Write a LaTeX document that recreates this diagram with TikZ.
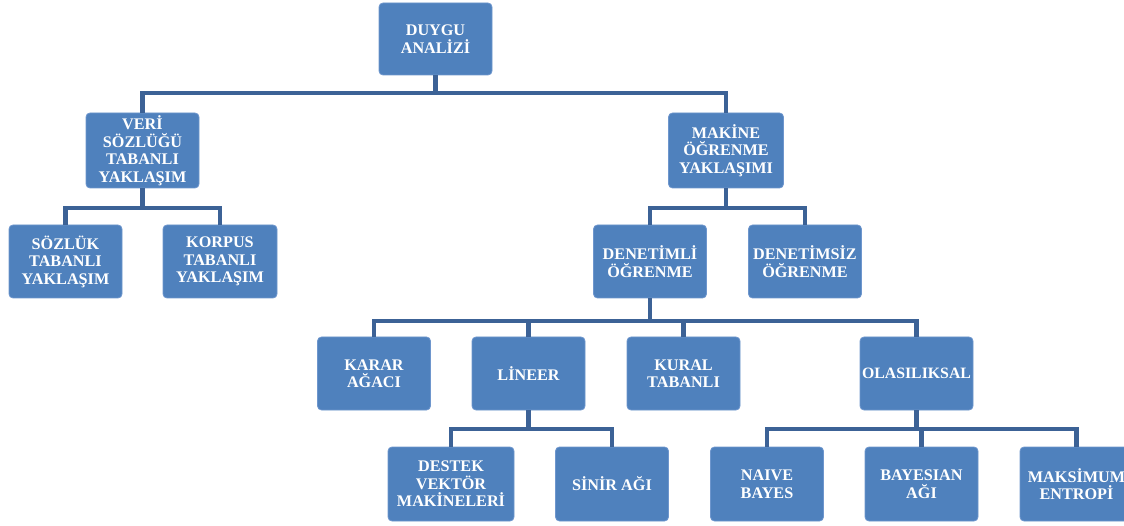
\documentclass[tikz,border=0pt]{standalone}
\usepackage{fontspec}
\setmainfont{Liberation Serif}
\definecolor{boxfill}{RGB}{79,129,189}
\definecolor{boxedge}{RGB}{110,150,205}
\definecolor{conncol}{RGB}{60,98,150}
\begin{document}
\begin{tikzpicture}[x=1pt,y=-1pt,
  box/.style={fill=boxfill,draw=boxedge,line width=0.8pt,rounded corners=4pt,
    text=white,font=\fontsize{16.2}{17.5}\selectfont\bfseries,align=center,
    inner xsep=0pt,inner ysep=2pt,minimum width=113pt,minimum height=73pt},
  conn/.style={draw=conncol,line width=4.5pt,line join=miter,line cap=butt}]
\clip (0,0) rectangle (1124,526);
\useasboundingbox (0,0) rectangle (1124,526);
% nodes
\node[box,minimum height=72pt] (root) at (435.5,39) {DUYGU\\ANALİZİ};
\node[box,minimum height=75pt] (veri) at (142.5,150.5) {VERİ\\SÖZLÜĞÜ\\TABANLI\\YAKLAŞIM};
\node[box,minimum height=75pt,minimum width=115pt] (makine) at (726,150.5) {MAKİNE\\ÖĞRENME\\YAKLAŞIMI};
\node[box] (sozluk) at (65.5,261.5) {SÖZLÜK\\TABANLI\\YAKLAŞIM};
\node[box,minimum width=114pt] (korpus) at (220,261.5) {KORPUS\\TABANLI\\YAKLAŞIM};
\node[box] (denetimli) at (650,261.5) {DENETİMLİ\\ÖĞRENME};
\node[box] (denetimsiz) at (805,261.5) {DENETİMSİZ\\ÖĞRENME};
\node[box] (karar) at (374,373.5) {KARAR\\AĞACI};
\node[box] (lineer) at (528.5,373.5) {LİNEER};
\node[box] (kural) at (683.5,373.5) {KURAL\\TABANLI};
\node[box,font=\fontsize{15.8}{17.5}\selectfont\bfseries] (olasilik) at (916.5,373.5) {OLASILIKSAL};
\node[box,minimum width=126pt,minimum height=74pt] (destek) at (451,484) {DESTEK\\VEKTÖR\\MAKİNELERİ};
\node[box,minimum height=74pt] (sinir) at (612,484) {SİNİR AĞI};
\node[box,minimum height=74pt] (naive) at (767,484) {NAIVE\\BAYES};
\node[box,minimum height=74pt] (bayes) at (921.5,484) {BAYESIAN\\AĞI};
\node[box,minimum height=74pt] (maks) at (1076.5,484) {MAKSİMUM\\ENTROPİ};
% bar levels
\coordinate (b0) at (435.5,93);
\coordinate (b1) at (142.5,208);
\coordinate (b2) at (726,208);
\coordinate (b3) at (650,321);
\coordinate (b4) at (528.5,429);
\coordinate (b5) at (916.5,429);
% connectors
\draw[conn] (root.south) -- (b0);
\draw[conn] (veri.north) |- (b0) -| (makine.north);
\draw[conn] (veri.south) -- (b1);
\draw[conn] (sozluk.north) |- (b1) -| (korpus.north);
\draw[conn] (makine.south) -- (b2);
\draw[conn] (denetimli.north) |- (b2) -| (denetimsiz.north);
\draw[conn] (denetimli.south) -- (b3);
\draw[conn] (karar.north) |- (b3) -| (olasilik.north);
\draw[conn] (lineer.north) -- (lineer.north |- b3);
\draw[conn] (kural.north) -- (kural.north |- b3);
\draw[conn] (lineer.south) -- (b4);
\draw[conn] (destek.north) |- (b4) -| (sinir.north);
\draw[conn] (olasilik.south) -- (b5);
\draw[conn] (naive.north) |- (b5) -| (maks.north);
\draw[conn] (bayes.north) -- (bayes.north |- b5);
\end{tikzpicture}
\end{document}
